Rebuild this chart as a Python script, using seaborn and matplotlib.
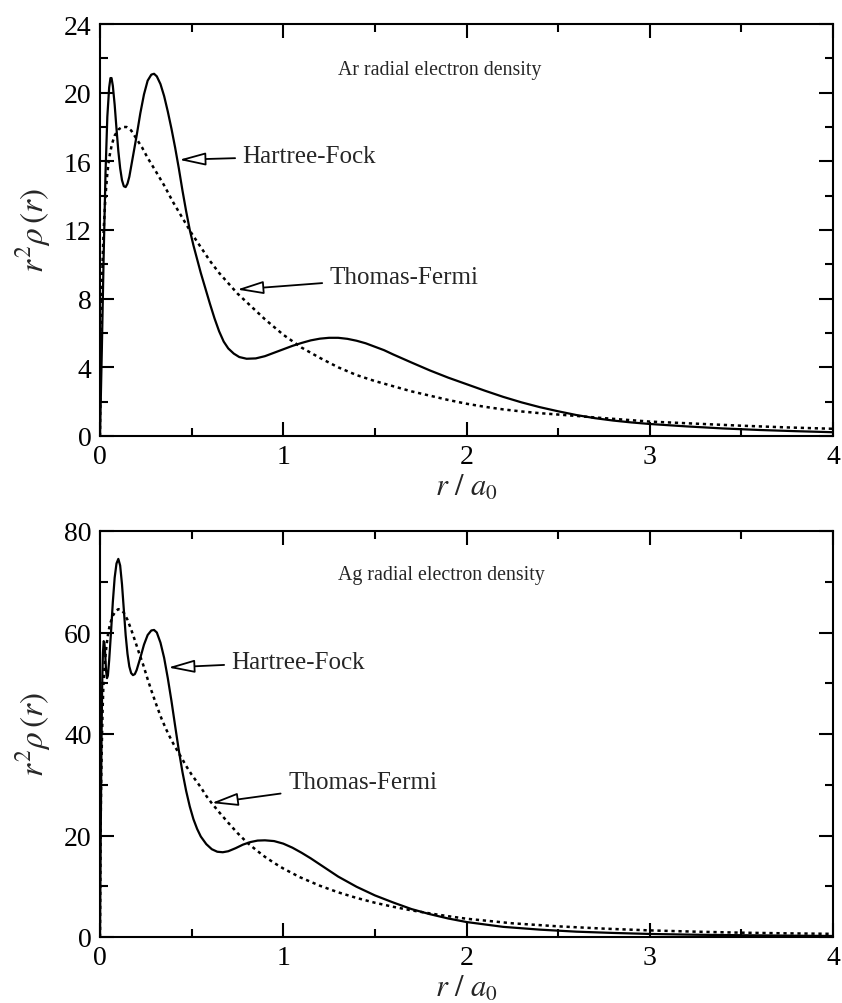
import numpy as np
import pandas as pd
import matplotlib
matplotlib.use("Agg")
import matplotlib.pyplot as plt
import seaborn as sns
from matplotlib.ticker import MultipleLocator

# ---------------- data ----------------
ar_hf_r = [0.0, 0.01, 0.02, 0.03, 0.04, 0.05, 0.057, 0.063, 0.07, 0.08, 0.09, 0.1, 0.11,
           0.12, 0.13, 0.14, 0.15, 0.16, 0.18, 0.2, 0.22, 0.24, 0.26, 0.28, 0.295, 0.31,
           0.33, 0.35, 0.37, 0.39, 0.41, 0.43, 0.45, 0.47, 0.49, 0.51, 0.53, 0.55, 0.575,
           0.6, 0.625, 0.65, 0.675, 0.7, 0.73, 0.76, 0.8, 0.85, 0.9, 0.95, 1.0, 1.05, 1.1,
           1.15, 1.2, 1.25, 1.3, 1.35, 1.4, 1.45, 1.5, 1.55, 1.6, 1.7, 1.8, 1.9, 2.0, 2.1,
           2.2, 2.3, 2.4, 2.5, 2.6, 2.7, 2.8, 2.9, 3.0, 3.2, 3.4, 3.6, 3.8, 4.0]
ar_hf_v = [0.0, 5.0, 10.5, 15.3, 18.6, 20.3, 20.85, 20.85, 20.4, 19.3, 17.9, 16.6, 15.6,
           14.9, 14.55, 14.5, 14.7, 15.1, 16.3, 17.5, 18.8, 19.9, 20.7, 21.05, 21.1, 20.95,
           20.5, 19.8, 18.9, 17.9, 16.8, 15.6, 14.3, 13.1, 12.0, 11.1, 10.3, 9.5, 8.6,
           7.7, 6.85, 6.1, 5.5, 5.1, 4.8, 4.6, 4.5, 4.52, 4.65, 4.85, 5.05, 5.25, 5.42,
           5.57, 5.67, 5.72, 5.72, 5.66, 5.55, 5.4, 5.2, 5.0, 4.75, 4.28, 3.82, 3.4, 3.02, 2.64,
           2.28, 1.96, 1.68, 1.44, 1.22, 1.04, 0.9, 0.79, 0.70, 0.56, 0.44, 0.35, 0.28, 0.22]

ar_tf_r = [0.0, 0.003, 0.006, 0.01, 0.015, 0.02, 0.03, 0.04, 0.05, 0.065, 0.08, 0.1, 0.12,
           0.145, 0.17, 0.2, 0.23, 0.26, 0.3, 0.35, 0.4, 0.45, 0.5, 0.55, 0.6, 0.65, 0.7,
           0.75, 0.8, 0.9, 1.0, 1.1, 1.2, 1.3, 1.4, 1.5, 1.6, 1.7, 1.8, 1.9, 2.0, 2.1, 2.2,
           2.3, 2.4, 2.5, 2.6, 2.7, 2.8, 2.9, 3.0, 3.25, 3.5, 3.75, 4.0]
ar_tf_v = [0.0, 4.0, 6.5, 8.5, 10.5, 12.0, 14.0, 15.3, 16.2, 17.0, 17.5, 17.85, 18.0,
           18.0, 17.8, 17.3, 16.8, 16.2, 15.5, 14.6, 13.6, 12.7, 11.8, 11.0, 10.2, 9.5, 8.9,
           8.3, 7.8, 6.8, 5.9, 5.15, 4.55, 4.0, 3.55, 3.2, 2.9, 2.6, 2.35, 2.1, 1.88, 1.7, 1.55,
           1.43, 1.33, 1.25, 1.17, 1.08, 1.0, 0.92, 0.84, 0.72, 0.6, 0.5, 0.42]

ag_hf_r = [0.0, 0.004, 0.008, 0.012, 0.016, 0.02, 0.024, 0.028, 0.033, 0.038, 0.043, 0.05,
           0.06, 0.07, 0.08, 0.09, 0.1, 0.11, 0.12, 0.13, 0.14, 0.15, 0.16, 0.17, 0.18,
           0.19, 0.2, 0.22, 0.24, 0.26, 0.28, 0.295, 0.31, 0.33, 0.35, 0.37, 0.39, 0.41,
           0.43, 0.45, 0.47, 0.49, 0.51, 0.53, 0.55, 0.58, 0.61, 0.64, 0.67, 0.7, 0.74,
           0.78, 0.82, 0.86, 0.9, 0.95, 1.0, 1.05, 1.1, 1.15, 1.2, 1.3, 1.4, 1.5, 1.6, 1.7,
           1.8, 1.9, 2.0, 2.2, 2.4, 2.6, 2.8, 3.0, 3.25, 3.5, 3.75, 4.0]
ag_hf_v = [0.0, 20.0, 38.0, 50.0, 56.0, 58.3, 58.0, 56.0, 52.5, 51.0, 51.5, 54.5,
           60.0, 66.0, 70.8, 73.6, 74.5, 73.2, 69.5, 64.5, 59.5, 55.8, 53.3, 52.0, 51.6,
           51.8, 52.6, 55.0, 57.6, 59.5, 60.4, 60.5, 60.0, 58.0, 55.0, 51.0, 46.5, 41.6,
           36.8, 32.5, 28.8, 25.7, 23.2, 21.3, 19.8, 18.3, 17.3, 16.8, 16.7, 16.9, 17.5,
           18.2, 18.7, 19.0, 19.05, 18.9, 18.4, 17.6, 16.6, 15.5, 14.3, 11.9, 9.9, 8.2, 6.8, 5.5,
           4.5, 3.65, 2.95, 2.0, 1.45, 1.05, 0.8, 0.6, 0.45, 0.35, 0.27, 0.2]

ag_tf_r = [0.0, 0.003, 0.006, 0.01, 0.014, 0.018, 0.025, 0.035, 0.045, 0.055, 0.07, 0.085,
           0.1, 0.115, 0.13, 0.15, 0.17, 0.19, 0.21, 0.236, 0.26, 0.28, 0.31, 0.336, 0.36,
           0.38, 0.4, 0.427, 0.45, 0.47, 0.5, 0.518, 0.55, 0.58, 0.609, 0.65, 0.7, 0.75,
           0.8, 0.85, 0.9, 0.95, 1.0, 1.09, 1.2, 1.3, 1.4, 1.5, 1.6, 1.7, 1.8, 1.9, 2.0,
           2.25, 2.5, 2.75, 3.0, 3.25, 3.5, 3.75, 4.0]
ag_tf_v = [0.0, 20.0, 30.0, 38.0, 44.5, 49.0, 53.5, 57.3, 60.0, 61.7, 63.3, 64.2,
           64.6, 64.5, 63.9, 62.5, 60.6, 58.5, 56.3, 53.6, 50.8, 48.6, 45.5, 43.0, 41.0,
           39.5, 38.1, 36.4, 35.0, 33.7, 32.0, 31.1, 29.5, 27.8, 26.4, 24.6, 22.5, 20.5,
           18.7, 17.2, 15.8, 14.6, 13.5, 11.8, 10.1, 8.8, 7.7, 6.75, 5.95, 5.25, 4.65, 4.1, 3.6,
           2.7, 2.1, 1.65, 1.3, 1.05, 0.85, 0.72, 0.62]

panel_titles = ["Ar radial electron density", "Ag radial electron density"]
series_names = ["Hartree-Fock", "Thomas-Fermi"]
y_limits = [24, 80]
y_major = [4, 20]
y_minor = [2, 10]

# ---------------- styling ----------------
sns.set_theme(style="ticks")
plt.rcParams["font.family"] = ["Liberation Serif", "DejaVu Serif"]
plt.rcParams["mathtext.fontset"] = "stix"
plt.rcParams["axes.linewidth"] = 1.5

fig = plt.figure(figsize=(8.42, 10.04), dpi=100)
ax_top = fig.add_axes([100 / 842, 1 - 437 / 1004, 733 / 842, 412 / 1004])
ax_bot = fig.add_axes([100 / 842, 1 - 938 / 1004, 733 / 842, 406 / 1004])

panels = [
    (ax_top, ar_hf_r, ar_hf_v, ar_tf_r, ar_tf_v,
     dict(hf_tip=(0.432, 16.09), hf_txt=(0.778, 15.96), tf_tip=(0.748, 8.53), tf_txt=(1.253, 8.92)),
     0.879),
    (ax_bot, ag_hf_r, ag_hf_v, ag_tf_r, ag_tf_v,
     dict(hf_tip=(0.372, 53.1), hf_txt=(0.718, 53.1), tf_tip=(0.609, 26.4), tf_txt=(1.026, 29.3)),
     0.882),
]

arrow = dict(arrowstyle="-|>,head_length=0.9,head_width=0.22", color="black",
             fc="white", lw=1.3, shrinkA=3, shrinkB=0)

for i, (ax, hr, hv, tr, tv, ann, ty) in enumerate(panels):
    df_hf = pd.DataFrame({"r": hr, "v": hv})
    df_tf = pd.DataFrame({"r": tr, "v": tv})
    sns.lineplot(data=df_hf, x="r", y="v", ax=ax, color="black", lw=1.6, sort=False,
                 estimator=None)
    sns.lineplot(data=df_tf, x="r", y="v", ax=ax, color="black", lw=1.8, sort=False,
                 estimator=None, dashes=False)
    ax.lines[-1].set_linestyle((0, (1.3, 1.5)))

    ax.set_xlim(0, 4)
    ax.set_ylim(0, y_limits[i])
    ax.xaxis.set_major_locator(MultipleLocator(1))
    ax.xaxis.set_minor_locator(MultipleLocator(0.5))
    ax.yaxis.set_major_locator(MultipleLocator(y_major[i]))
    ax.yaxis.set_minor_locator(MultipleLocator(y_minor[i]))
    ax.tick_params(which="both", direction="in", top=True, right=True, width=1.5,
                   labelsize=20, pad=6, colors="black")
    ax.tick_params(which="major", length=10)
    ax.tick_params(which="minor", length=6)
    for s in ax.spines.values():
        s.set_visible(True)
        s.set_color("black")
        s.set_linewidth(1.5)

    ax.set_xlabel(r"$r\ /\ a_0$", fontsize=22, labelpad=2)
    ax.set_ylabel(r"$r^2\rho\,(r)$", fontsize=24, labelpad=8)

    ax.text(0.325, ty, panel_titles[i], transform=ax.transAxes, fontsize=14.3,
            ha="left", va="baseline")
    ax.annotate(series_names[0], xy=ann["hf_tip"], xytext=ann["hf_txt"], fontsize=18,
                ha="left", va="baseline", arrowprops=arrow)
    ax.annotate(series_names[1], xy=ann["tf_tip"], xytext=ann["tf_txt"], fontsize=18,
                ha="left", va="baseline", arrowprops=arrow)

fig.savefig("out.png", dpi=100)
